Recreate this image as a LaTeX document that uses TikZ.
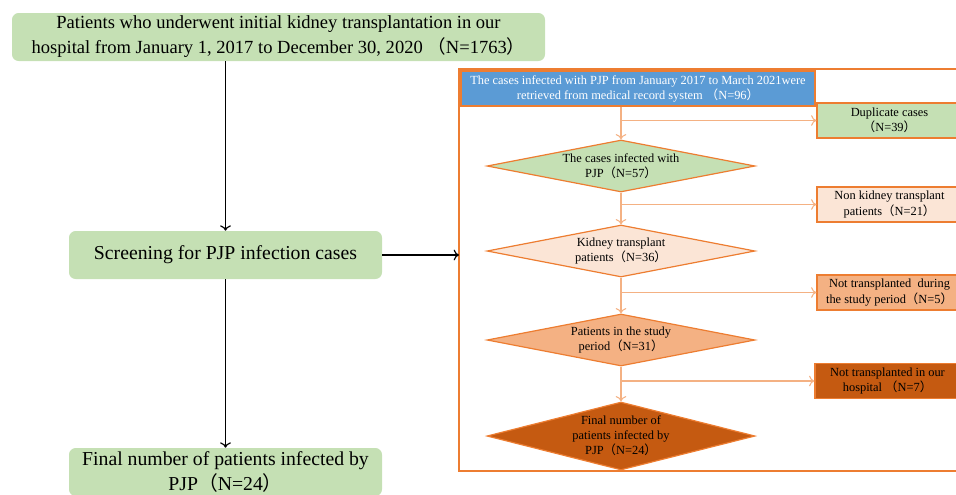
\documentclass[tikz,border=0pt]{standalone}
\usepackage{fontspec}
\setmainfont{Liberation Serif}
\newfontfamily\cjk{Noto Sans CJK SC}
\usetikzlibrary{shapes.geometric,arrows.meta}

\definecolor{boxgreen}{HTML}{C5E0B4}
\definecolor{headblue}{HTML}{5B9BD5}
\definecolor{frameorange}{HTML}{ED7D31}
\definecolor{lineorange}{HTML}{F4B183}
\definecolor{peach}{HTML}{FBE5D6}
\definecolor{midorange}{HTML}{F4B183}
\definecolor{darkorange}{HTML}{C55A11}

\newcommand{\lp}{{\cjk （}}
\newcommand{\rp}{{\cjk ）}}

\tikzset{
  >={To[length=4pt,width=8pt]},
  big/.style={font=\fontsize{14.8}{18.75}\selectfont},
  topfont/.style={font=\fontsize{13.9}{18.75}\selectfont},
  small/.style={font=\fontsize{9.3}{11.3}\selectfont},
  greenbox/.style={rectangle, rounded corners=5pt, fill=boxgreen, align=center, inner sep=0pt, big},
  flowdia/.style={diamond, draw=frameorange, line width=0.9pt, inner sep=0pt,
    minimum width=268*0.75pt, minimum height=52*0.75pt},
  sidebox/.style={rectangle, draw=frameorange, line width=0.9pt, align=center, inner sep=0pt,
    minimum width=145*0.75pt, minimum height=35*0.75pt, small},
  flow/.style={draw=lineorange, line width=0.8pt, ->},
  mainarrow/.style={draw=black, line width=0.9pt, ->}
}

\begin{document}
\begin{tikzpicture}[x=0.75pt, y=-0.75pt]
  \useasboundingbox (0,0) rectangle (956,494);
  \clip (0,0) rectangle (956,494);

  % left column
  \node[greenbox, topfont, minimum width=533*0.75pt, minimum height=48*0.75pt] (top) at (278.5,37)
    {Patients who underwent initial kidney transplantation in our\\hospital from January 1, 2017 to December 30, 2020 \lp N=1763\rp};
  \node[greenbox, minimum width=313*0.75pt, minimum height=48*0.75pt] (screen) at (225.5,255)
    {Screening for PJP infection cases};
  \node[greenbox, minimum width=313*0.75pt, minimum height=48*0.75pt] (final) at (225.5,472)
    {Final number of patients infected by\\PJP\lp N=24\rp};

  \draw[mainarrow] (screen.north |- top.south) -- (screen.north);
  \draw[mainarrow] (screen.south) -- (final.north);

  % right frame
  \draw[frameorange, line width=1.6pt] (459,69) rectangle (962,471);
  \coordinate (frameleft) at (459,255);
  \draw[mainarrow] (screen.east) -- (frameleft);

  \node[rectangle, draw=frameorange, line width=1.2pt, fill=headblue, text=white, align=center,
    inner sep=0pt, minimum width=354*0.75pt, minimum height=35*0.75pt, small] (hdr) at (638,88.5)
    {The cases infected with PJP from January 2017 to March 2021were\\retrieved from medical record system \lp N=96\rp};

  \node[flowdia, fill=boxgreen, label={[small, align=center]center:{The cases infected with\\PJP\lp N=57\rp}}] (d1) at (621,166) {};
  \node[flowdia, fill=peach, label={[small, align=center]center:{Kidney transplant\\patients\lp N=36\rp}}] (d2) at (621,251) {};
  \node[flowdia, fill=midorange, label={[small, align=center]center:{Patients in the study\\period\lp N=31\rp}}] (d3) at (621,340) {};
  \node[flowdia, fill=darkorange, minimum height=68*0.75pt, label={[small, align=center]center:{Final number of\\patients infected by\\PJP\lp N=24\rp}}] (d4) at (621,436) {};

  \node[sidebox, fill=boxgreen] (b1) at (889.5,120.5) {Duplicate cases\\\lp N=39\rp};
  \node[sidebox, fill=peach] (b2) at (889.5,204.5) {Non kidney transplant\\patients\lp N=21\rp};
  \node[sidebox, fill=midorange] (b3) at (889.5,292.5) {Not transplanted\ \ during\\the study period\lp N=5\rp};
  \node[sidebox, fill=darkorange] (b4) at (887.5,381) {Not transplanted in our\\hospital \lp N=7\rp};

  % spine with branches
  \draw[flow] (d1.north |- hdr.south) -- (d1.north);
  \draw[flow] (d1.north |- b1.west) -- (b1.west);
  \draw[flow] (d1.south) -- (d2.north);
  \draw[flow] (d1.south |- b2.west) -- (b2.west);
  \draw[flow] (d2.south) -- (d3.north);
  \draw[flow] (d2.south |- b3.west) -- (b3.west);
  \draw[flow] (d3.south) -- (d4.north);
  \draw[flow] (d3.south |- b4.west) -- (b4.west);
\end{tikzpicture}
\end{document}
